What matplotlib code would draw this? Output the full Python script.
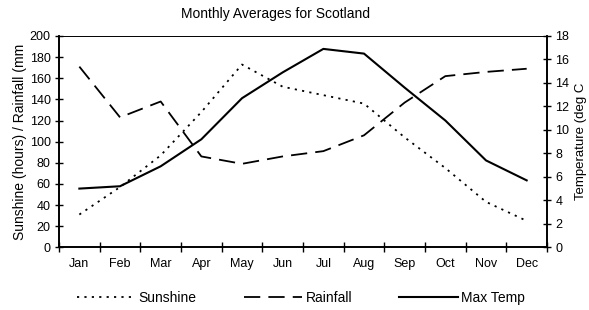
import matplotlib.pyplot as plt
import numpy as np

plt.rcParams['font.family'] = ['Liberation Sans', 'DejaVu Sans']

months = ['Jan', 'Feb', 'Mar', 'Apr', 'May', 'Jun', 'Jul', 'Aug', 'Sep', 'Oct', 'Nov', 'Dec']
sunshine = [31, 57, 87, 128, 173, 152, 144, 136, 104, 75, 43, 25]
rainfall = [171, 123, 138, 86, 79, 86, 91, 106, 137, 162, 166, 169]
max_temp = [5.0, 5.2, 6.9, 9.2, 12.7, 14.9, 16.9, 16.5, 13.6, 10.8, 7.4, 5.7]

fig = plt.figure(figsize=(5.89, 3.10), dpi=100)
ax = fig.add_axes([0.1002, 0.2023, 0.8285, 0.6816])
ax2 = ax.twinx()

x = np.arange(len(months)) + 0.5

l1, = ax.plot(x, sunshine, color='black', linewidth=1.3, linestyle=(0, (1.2, 2.9)), label='Sunshine')
l2, = ax.plot(x, rainfall, color='black', linewidth=1.3, linestyle=(0, (9, 4.5)), label='Rainfall')
l3, = ax2.plot(x, max_temp, color='black', linewidth=1.5, label='Max Temp')

ax.set_xlim(0, 12)
ax.set_ylim(0, 200)
ax.set_yticks(np.arange(0, 201, 20))
ax2.set_ylim(0, 18)
ax2.set_yticks(np.arange(0, 19, 2))

# month labels sit between the boundary ticks
ax.set_xticks(np.arange(0, 13))
ax.set_xticklabels([])
ax.set_xticks(x, minor=True)
ax.set_xticklabels(months, minor=True)
ax.tick_params(axis='x', which='minor', length=0, labelsize=9, pad=8)
ax.tick_params(axis='x', which='major', direction='inout', length=7, width=1)
ax.tick_params(axis='y', direction='inout', length=6, width=1, labelsize=9, pad=3)
ax2.tick_params(axis='y', direction='inout', length=6, width=1, labelsize=9, pad=3)

for a in (ax, ax2):
    for s in a.spines.values():
        s.set_linewidth(1.2)
ax.spines['top'].set_linewidth(0.6)
ax2.spines['top'].set_linewidth(0.6)

ax.set_ylabel('Sunshine (hours) / Rainfall (mm', fontsize=10, labelpad=2)
ax2.set_ylabel('Temperature (deg C', fontsize=9.5, labelpad=4)
fig.text(0.467, 0.955, 'Monthly Averages for Scotland', fontsize=10, ha='center', va='center')

fig.legend(handles=[l1, l2, l3], loc='center', bbox_to_anchor=(0.511, 0.04),
           ncol=3, frameon=False, fontsize=10, handlelength=4.2, handletextpad=0.25,
           columnspacing=3.4)

fig.savefig('out.png', dpi=100)
